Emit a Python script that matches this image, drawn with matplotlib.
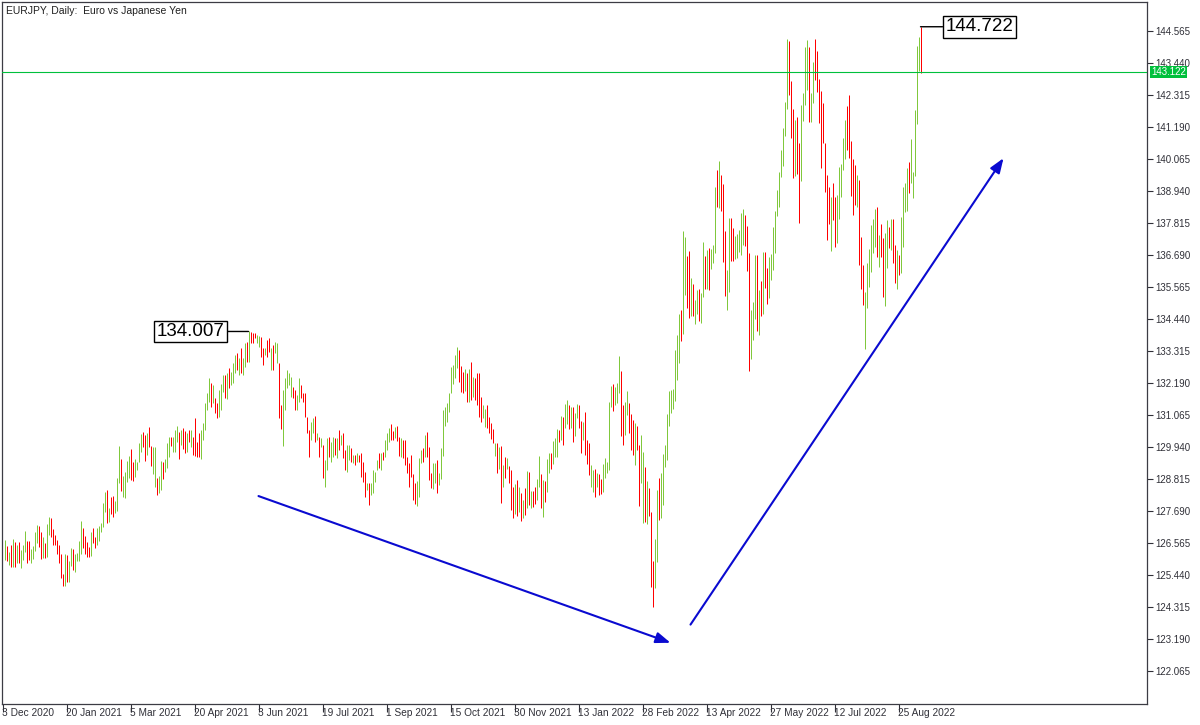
import numpy as np
import matplotlib.pyplot as plt

# EURJPY daily bars, 4 Dec 2020 .. Sep 2022
symbol_title = "EURJPY, Daily:  Euro vs Japanese Yen"

date_labels = ["3 Dec 2020", "20 Jan 2021", "5 Mar 2021", "20 Apr 2021", "3 Jun 2021",
               "19 Jul 2021", "1 Sep 2021", "15 Oct 2021", "30 Nov 2021", "13 Jan 2022",
               "28 Feb 2022", "13 Apr 2022", "27 May 2022", "12 Jul 2022", "25 Aug 2022"]

highs = [
    126.68, 126.47, 126.27, 126.50, 126.71, 126.62, 126.50, 126.62, 126.33, 126.50,
    126.99, 126.65, 126.65, 126.36, 126.47, 126.96, 127.20, 127.15, 126.96, 126.78,
    126.56, 127.24, 127.49, 127.46, 127.06, 126.85, 126.68, 126.50, 126.19, 125.48,
    126.19, 126.15, 125.94, 126.41, 126.36, 126.19, 126.21, 126.64, 127.35, 127.11,
    126.83, 126.61, 126.44, 126.96, 127.11, 126.79, 127.08, 127.15, 127.28, 127.98,
    128.38, 128.45, 127.80, 128.17, 128.22, 128.05, 128.85, 129.99, 129.53, 128.93,
    129.08, 129.47, 129.64, 129.89, 129.40, 129.53, 129.43, 130.08, 130.39, 130.47,
    130.37, 130.43, 130.65, 129.99, 129.96, 129.95, 128.86, 128.93, 129.47, 129.43,
    129.54, 130.08, 130.28, 130.29, 130.28, 130.55, 130.70, 130.47, 130.55, 130.62,
    130.51, 130.43, 130.55, 130.56, 130.31, 130.96, 130.13, 130.45, 130.54, 130.78,
    131.48, 131.83, 132.36, 132.21, 132.13, 131.66, 131.48, 131.95, 132.16, 132.48,
    132.48, 132.53, 132.71, 132.59, 132.89, 133.18, 133.24, 133.06, 133.41, 133.06,
    133.59, 133.65, 134.007, 133.98, 133.96, 133.95, 133.90, 133.85, 133.82, 133.41,
    133.41, 133.71, 133.77, 133.41, 133.53, 133.65, 133.59, 132.89, 131.42, 131.95,
    132.36, 132.65, 132.53, 132.42, 132.07, 131.95, 131.77, 132.36, 132.13, 131.83,
    131.83, 131.01, 130.54, 130.83, 130.95, 131.03, 130.43, 130.31, 130.25, 130.02,
    129.49, 130.25, 130.31, 130.13, 130.31, 130.25, 130.25, 130.54, 130.37, 130.43,
    129.84, 130.02, 130.02, 129.90, 129.66, 129.66, 129.72, 129.66, 129.72, 129.43,
    129.08, 128.67, 128.69, 128.67, 129.14, 129.08, 129.49, 129.72, 129.72, 129.78,
    130.19, 130.45, 130.60, 130.75, 130.52, 130.66, 130.68, 130.31, 130.27, 130.19,
    130.19, 129.60, 129.37, 129.66, 128.99, 128.69, 128.76, 129.55, 129.84, 129.92,
    130.37, 130.48, 129.96, 129.04, 129.39, 129.39, 129.49, 129.04, 129.92, 131.25,
    131.36, 131.48, 131.86, 132.77, 132.83, 133.18, 133.47, 133.36, 132.79, 132.59,
    132.68, 132.54, 132.69, 132.92, 132.42, 132.38, 132.56, 132.54, 131.72, 131.42,
    131.27, 131.42, 130.99, 130.78, 130.58, 130.10, 130.07, 129.93, 129.98, 129.31,
    129.61, 129.55, 129.28, 129.14, 128.55, 128.64, 128.79, 128.53, 128.34, 128.08,
    128.49, 129.11, 129.06, 128.40, 128.40, 128.55, 128.82, 129.63, 128.98, 128.79,
    128.76, 129.51, 129.72, 129.75, 130.17, 130.25, 130.58, 130.54, 131.05, 131.01,
    131.46, 131.60, 131.42, 131.36, 131.34, 131.13, 131.46, 131.42, 130.87, 130.84,
    131.19, 130.19, 130.07, 129.31, 129.14, 129.17, 129.02, 128.98, 128.82, 129.35,
    129.55, 129.43, 131.54, 132.09, 132.16, 132.04, 132.18, 133.16, 132.62, 131.42,
    131.54, 131.93, 131.50, 131.10, 130.89, 130.78, 130.68, 130.01, 130.37, 129.78,
    129.25, 128.75, 128.52, 127.67, 125.94, 126.71, 128.43, 128.87, 129.02, 129.69,
    130.01, 131.10, 131.93, 131.95, 131.98, 133.36, 133.88, 134.62, 134.76, 137.55,
    137.34, 136.66, 136.84, 135.89, 135.68, 135.11, 135.47, 135.50, 135.35, 137.15,
    136.66, 136.87, 136.95, 136.90, 137.05, 139.09, 139.69, 140.00, 139.51, 139.19,
    137.55, 136.17, 137.98, 137.98, 137.63, 137.36, 137.43, 137.57, 138.18, 138.31,
    138.10, 137.72, 136.75, 134.76, 135.03, 136.70, 136.70, 135.47, 135.78, 136.80,
    136.80, 136.25, 136.64, 136.73, 137.67, 138.25, 138.98, 139.63, 140.39, 141.15,
    142.09, 144.29, 144.22, 142.83, 141.82, 141.44, 141.54, 140.65, 141.97, 142.38,
    144.02, 144.26, 144.02, 142.38, 143.49, 144.29, 143.87, 142.88, 142.47, 142.03,
    140.62, 139.51, 139.10, 138.75, 139.22, 138.75, 138.81, 139.80, 139.90, 140.82,
    141.44, 141.94, 142.32, 140.72, 140.06, 139.86, 139.51, 139.33, 137.32, 136.35,
    135.41, 136.43, 136.90, 137.75, 137.95, 138.30, 138.37, 137.40, 137.79, 137.28,
    137.48, 137.93, 137.69, 137.95, 137.96, 137.05, 136.87, 136.70, 138.04, 139.10,
    139.22, 139.74, 139.98, 140.77, 139.63, 141.79, 144.04, 144.35, 144.722,
]

lows = [
    125.97, 125.92, 125.80, 125.74, 125.74, 125.74, 125.86, 125.88, 125.68, 125.97,
    126.27, 125.88, 125.97, 125.88, 126.00, 126.30, 126.56, 126.44, 126.02, 126.03,
    126.03, 126.09, 126.85, 126.79, 126.50, 126.50, 126.17, 125.88, 125.35, 125.04,
    125.07, 125.21, 125.21, 125.76, 125.62, 125.56, 125.94, 125.95, 126.17, 126.38,
    126.19, 126.09, 126.06, 126.12, 126.56, 126.41, 126.50, 126.65, 126.94, 127.12,
    127.67, 127.26, 127.29, 127.58, 127.47, 127.62, 127.70, 128.69, 128.41, 128.20,
    128.14, 128.73, 128.87, 128.79, 128.75, 128.88, 129.12, 129.43, 129.78, 129.96,
    129.47, 129.67, 129.96, 129.29, 128.99, 128.55, 128.24, 128.32, 128.44, 128.81,
    129.05, 129.20, 129.61, 129.99, 129.78, 129.78, 130.11, 129.53, 130.02, 129.87,
    129.72, 129.78, 130.11, 129.96, 129.68, 129.63, 129.61, 129.61, 129.54, 130.19,
    130.54, 131.25, 131.54, 131.36, 131.48, 131.13, 130.95, 131.01, 131.25, 131.89,
    131.66, 131.62, 132.01, 132.13, 132.18, 132.53, 132.65, 132.48, 132.53, 132.48,
    132.77, 132.95, 132.95, 133.59, 133.59, 133.77, 133.59, 133.47, 133.12, 132.83,
    133.18, 133.12, 133.30, 132.65, 132.65, 133.24, 132.89, 130.95, 130.57, 129.98,
    131.25, 132.01, 132.13, 131.71, 131.66, 131.25, 131.25, 131.54, 131.66, 131.54,
    131.01, 130.43, 129.61, 130.19, 130.43, 130.13, 130.19, 129.61, 129.96, 128.84,
    128.55, 129.14, 129.61, 129.43, 129.61, 129.66, 129.55, 129.84, 130.02, 129.55,
    129.14, 129.08, 129.49, 129.43, 129.37, 129.31, 129.43, 129.43, 128.90, 128.73,
    128.20, 128.43, 127.91, 128.26, 128.32, 128.73, 129.14, 129.20, 129.14, 129.49,
    129.61, 129.84, 130.13, 130.19, 130.19, 130.25, 130.16, 129.63, 129.60, 129.55,
    129.31, 129.02, 128.55, 128.90, 128.08, 127.94, 127.88, 128.20, 129.37, 129.43,
    129.60, 129.60, 128.79, 128.49, 128.47, 128.67, 128.32, 128.61, 128.82, 129.63,
    130.70, 130.84, 131.19, 131.83, 132.16, 132.38, 132.71, 132.24, 131.87, 131.83,
    131.91, 131.54, 131.54, 131.60, 131.72, 131.60, 131.42, 130.99, 130.84, 130.95,
    130.66, 130.62, 130.43, 130.22, 130.07, 129.63, 129.02, 129.16, 127.96, 128.53,
    128.84, 129.16, 128.67, 127.73, 127.44, 127.59, 127.52, 127.67, 127.34, 127.44,
    127.55, 127.79, 127.89, 127.79, 127.85, 127.93, 128.08, 128.55, 127.79, 127.47,
    128.02, 128.35, 129.02, 129.16, 129.34, 129.60, 129.60, 130.13, 130.19, 130.02,
    130.60, 130.75, 130.57, 130.60, 130.13, 130.33, 130.95, 130.60, 129.75, 130.19,
    129.66, 129.35, 128.96, 128.53, 128.37, 128.20, 128.55, 128.26, 128.29, 128.37,
    128.84, 129.02, 129.14, 131.36, 131.22, 131.42, 131.48, 131.83, 130.33, 130.02,
    130.37, 131.07, 130.43, 129.84, 129.66, 129.31, 129.84, 127.87, 128.67, 127.26,
    127.32, 127.24, 127.52, 125.03, 124.33, 124.99, 125.91, 127.38, 127.44, 127.91,
    129.25, 129.49, 130.68, 131.15, 131.28, 131.56, 132.30, 132.91, 133.68, 133.92,
    135.29, 134.84, 134.49, 134.55, 134.55, 134.27, 134.62, 134.39, 134.32, 135.23,
    135.50, 135.50, 135.47, 136.20, 136.43, 136.78, 138.37, 138.34, 138.25, 136.46,
    135.27, 134.76, 135.41, 136.50, 136.50, 136.55, 136.58, 136.81, 136.70, 137.05,
    137.01, 136.15, 132.63, 133.04, 133.71, 134.45, 134.04, 133.88, 134.55, 134.62,
    135.55, 134.97, 135.20, 135.82, 136.17, 136.78, 138.07, 138.40, 139.45, 139.83,
    140.88, 141.82, 142.32, 140.80, 139.39, 139.47, 139.54, 137.83, 139.30, 141.41,
    141.97, 142.50, 141.38, 141.38, 142.03, 142.85, 142.44, 141.35, 139.77, 140.62,
    138.92, 137.22, 137.79, 136.85, 137.93, 136.99, 137.11, 137.95, 138.75, 139.69,
    140.06, 140.39, 140.12, 138.77, 138.10, 138.45, 138.40, 136.35, 135.49, 134.94,
    133.38, 134.82, 135.58, 136.11, 136.75, 136.99, 136.61, 136.29, 136.64, 135.23,
    134.90, 136.23, 136.93, 136.87, 136.40, 135.70, 135.49, 135.99, 136.07, 136.99,
    138.22, 138.25, 138.89, 139.24, 138.69, 139.47, 141.30, 143.18, 143.08,
]

# u = up bar (close > open), d = down bar
bar_dir = (
    "ududududuu" "udduuuuddu" "duuddddddd" "uduuduuuud" "dddudduuuu"
    "ududduuudu" "uuudduuuud" "dudduuduud" "uuuduuudud" "dududddduu"
    "uuududduuu" "duduuududu" "ududdduudd" "udduduuddu" "uuuudduudd"
    "ddduududud" "uuduududud" "duudududdd" "duduuuudud" "uuudduddud"
    "dddddduuud" "uddduuduuu" "uuuuuuuddd" "udududdddu" "uddddududu"
    "dudddududu" "dududduudu" "duuduuudud" "uududuuddu" "ddduududdu"
    "uuuuduuudd" "uudddudduu" "duddduuduu" "uuuuuuuudu" "udduduuduu"
    "duduuududd" "duudduuuuu" "ddduuududu" "dduuuuuuuu" "uudddudduu"
    "uuduuddddd" "dddudduuuu" "uddddduddd" "uuuuuududd" "uududduduu"
    "uuduuuuud"
)

price_ticks = [122.065, 123.190, 124.315, 125.440, 126.565, 127.690, 128.815, 129.940,
               131.065, 132.190, 133.315, 134.440, 135.565, 136.690, 137.815, 138.940,
               140.065, 141.190, 142.315, 143.440, 144.565]
last_price = 143.122

# labelled extremes: (bar number, price)
marked_highs = [(123, 134.007), (459, 144.722)]

# hand-drawn trend arrows: (bar, price) -> (bar, price)
trend_arrows = [((128, 128.22), (334, 123.06)),
                ((344, 123.70), (500.5, 140.10))]

up_color = "#80c83c"
down_color = "#ff0000"
frame_color = "#3c3c44"
small_font = "Liberation Sans"

fig = plt.figure(figsize=(12, 7.25), dpi=100)
W, H = 1200, 725
ax = fig.add_axes([2 / W, (H - 704) / H, 1145 / W, 702 / H])

x = np.arange(1, len(highs) + 1)
colors = [up_color if c == "u" else down_color for c in bar_dir]
ax.vlines(x, lows, highs, colors=colors, linewidth=0.72, zorder=2)

# half-pixel shift so every 1 px bar sits on a pixel column
ax.set_xlim(-0.25, 572.25)
ax.set_ylim(120.908, 145.592)

# last price line and its tag on the price scale
ax.axhline(last_price, color="#00c03c", linewidth=0.8, zorder=3)
ax.annotate(f"{last_price:.3f}", xy=(1, last_price), xycoords=ax.get_yaxis_transform(),
            xytext=(4, 0), textcoords="offset pixels", ha="left", va="center",
            fontsize=7, family=small_font, color="white", zorder=10,
            annotation_clip=False,
            bbox=dict(boxstyle="square,pad=0.12", fc="#00c03c", ec="none"))

# boxed high labels
ax.annotate(f"{marked_highs[0][1]:.3f}", xy=marked_highs[0], xytext=(-24, 0),
            textcoords="offset pixels", ha="right", va="center", fontsize=13.5,
            family="Liberation Sans", zorder=6,
            bbox=dict(boxstyle="square,pad=0.13", fc="white", ec="black", lw=1),
            arrowprops=dict(arrowstyle="-", color="black", lw=1, shrinkA=0, shrinkB=0))
ax.annotate(f"{marked_highs[1][1]:.3f}", xy=marked_highs[1], xytext=(25, 0),
            textcoords="offset pixels", ha="left", va="center", fontsize=13.5,
            family="Liberation Sans", zorder=6,
            bbox=dict(boxstyle="square,pad=0.13", fc="white", ec="black", lw=1),
            arrowprops=dict(arrowstyle="-", color="black", lw=1, shrinkA=0, shrinkB=0))

for start, end in trend_arrows:
    ax.annotate("", xy=end, xytext=start, zorder=5,
                arrowprops=dict(arrowstyle="-|>,head_length=0.8,head_width=0.3",
                                color="#0a0ad0", lw=1.5, shrinkA=0, shrinkB=0,
                                mutation_scale=11))

# axes styling, price scale on the right
ax.yaxis.tick_right()
ax.set_yticks(price_ticks)
ax.set_yticklabels([f"{p:.3f}" for p in price_ticks])
ax.set_xticks(np.arange(len(date_labels)) * 32)
ax.set_xticklabels(date_labels)
ax.tick_params(axis="y", direction="out", length=4, width=0.8, pad=2,
               labelsize=7, colors="#303038")
ax.tick_params(axis="x", direction="out", length=6, width=0.8, pad=-3,
               labelsize=7.3, colors="#303038")
for lbl in ax.get_xticklabels() + ax.get_yticklabels():
    lbl.set_family(small_font)
for lbl in ax.get_xticklabels():
    lbl.set_horizontalalignment("left")
for s in ax.spines.values():
    s.set_color(frame_color)
    s.set_linewidth(0.9)

ax.text(4 / 1145, 1 - 9 / 702, symbol_title, transform=ax.transAxes, ha="left",
        va="center", fontsize=7.5, family=small_font, color="#202020")

fig.savefig("out.png", dpi=100, facecolor="white")
